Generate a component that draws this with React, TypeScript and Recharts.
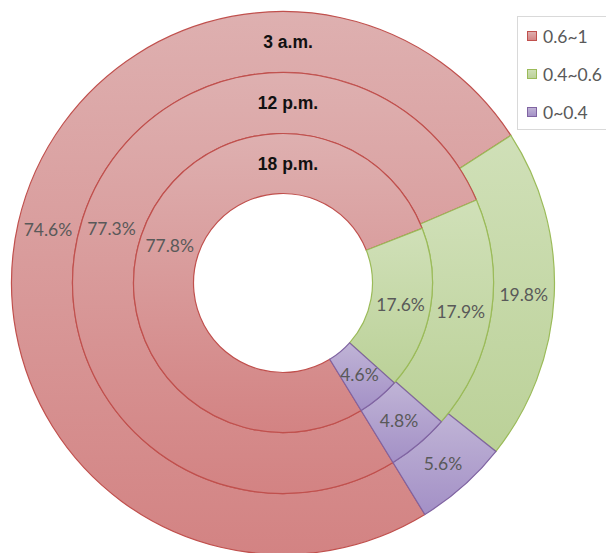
import React from 'react';
import { PieChart, Pie, Cell, Legend } from 'recharts';

// Value ranges (legend entries) and the three sampling times (rings, outer to inner)
const ranges = ['0.6~1', '0.4~0.6', '0~0.4'];
const rings = ['3 a.m.', '12 p.m.', '18 p.m.'];

// Share of each range, in percent
const share3am = [74.6, 19.8, 5.6];
const share12pm = [77.3, 17.9, 4.8];
const share18pm = [77.8, 17.6, 4.6];

const strokeColors = ['#C0504D', '#9BBB59', '#8064A2'];
const gradientIds = ['gradRed', 'gradGreen', 'gradPurple'];

const WIDTH = 606;
const HEIGHT = 553;
const CX = 283;
const CY = 283;
// ring boundaries, outer ring first
const ringRadii: [number, number][] = [
  [210.5, 271.5],
  [149.5, 210.5],
  [89.5, 149.5],
];
const START_ANGLE = -58.5;
const END_ANGLE = START_ANGLE - 360;

const toData = (values: number[]) => ranges.map((name, i) => ({ name, value: values[i] }));
const ringData = [toData(share3am), toData(share12pm), toData(share18pm)];

const RADIAN = Math.PI / 180;

const renderValueLabel = (props: any) => {
  const { cx, cy, midAngle, innerRadius, outerRadius, value } = props;
  const r = (innerRadius + outerRadius) / 2;
  const x = cx + r * Math.cos(-midAngle * RADIAN);
  const y = cy + r * Math.sin(-midAngle * RADIAN);
  return (
    <text
      x={x}
      y={y}
      textAnchor="middle"
      dominantBaseline="central"
      fill="#595959"
      fontFamily="Lato, 'Liberation Sans', sans-serif"
      fontSize={17.5}
    >
      {`${Number(value).toFixed(1)}%`}
    </text>
  );
};

// Time-of-day captions at the top of each ring
const RingTitles = () => (
  <svg
    width={WIDTH}
    height={HEIGHT}
    style={{ position: 'absolute', left: 0, top: 0, pointerEvents: 'none' }}
  >
    {rings.map((name, i) => {
      const [inner, outer] = ringRadii[i];
      return (
        <text
          key={name}
          x={CX + 5}
          y={CY - (inner + outer) / 2}
          textAnchor="middle"
          dominantBaseline="central"
          fill="#111"
          fontFamily="'Liberation Sans', Arial, sans-serif"
          fontWeight="bold"
          fontSize={17.5}
        >
          {name}
        </text>
      );
    })}
  </svg>
);

const LegendBox = () => (
  <div
    style={{
      position: 'relative',
      width: 100,
      height: 114,
      border: '1px solid #D9D9D9',
      background: '#fff',
      boxSizing: 'border-box',
      fontFamily: "Lato, 'Liberation Sans', sans-serif",
      fontSize: 17.5,
      color: '#595959',
    }}
  >
    {ranges.map((name, i) => (
      <div
        key={name}
        style={{
          position: 'absolute',
          left: 9,
          top: 9 + i * 38,
          height: 20,
          display: 'flex',
          alignItems: 'center',
          whiteSpace: 'nowrap',
        }}
      >
        <svg width={10} height={10} style={{ marginRight: 6 }}>
          <rect x={0.5} y={0.5} width={9} height={9} fill={`url(#${gradientIds[i]})`} stroke={strokeColors[i]} />
        </svg>
        <span>{name}</span>
      </div>
    ))}
  </div>
);

export default function App() {
  return (
    <div style={{ position: 'absolute', left: 0, top: 0, width: WIDTH, height: HEIGHT, background: '#fff' }}>
      <svg width={0} height={0} style={{ position: 'absolute' }}>
        <defs>
          <linearGradient id="gradRed" x1="0" y1="0" x2="0" y2="1">
            <stop offset="0%" stopColor="#DEB0B0" />
            <stop offset="100%" stopColor="#D38383" />
          </linearGradient>
          <linearGradient id="gradGreen" x1="0" y1="0" x2="0" y2="1">
            <stop offset="0%" stopColor="#D0E0B8" />
            <stop offset="100%" stopColor="#BBD198" />
          </linearGradient>
          <linearGradient id="gradPurple" x1="0" y1="0" x2="0" y2="1">
            <stop offset="0%" stopColor="#C0B4D6" />
            <stop offset="100%" stopColor="#A390C6" />
          </linearGradient>
        </defs>
      </svg>
      <PieChart width={WIDTH} height={HEIGHT} margin={{ top: 0, right: 0, bottom: 0, left: 0 }}>
        {ringData.map((data, ri) => (
          <Pie
            key={rings[ri]}
            data={data}
            dataKey="value"
            nameKey="name"
            cx={CX}
            cy={CY}
            innerRadius={ringRadii[ri][0]}
            outerRadius={ringRadii[ri][1]}
            startAngle={START_ANGLE}
            endAngle={END_ANGLE}
            paddingAngle={0}
            isAnimationActive={false}
            label={renderValueLabel}
            labelLine={false}
          >
            {data.map((d, i) => (
              <Cell key={d.name} fill={`url(#${gradientIds[i]})`} stroke={strokeColors[i]} strokeWidth={1.2} />
            ))}
          </Pie>
        ))}
        <Legend
          layout="vertical"
          verticalAlign="top"
          align="right"
          content={() => <LegendBox />}
          wrapperStyle={{ position: 'absolute', left: 517, top: 16, width: 100, height: 114 }}
        />
      </PieChart>
      <RingTitles />
    </div>
  );
}
